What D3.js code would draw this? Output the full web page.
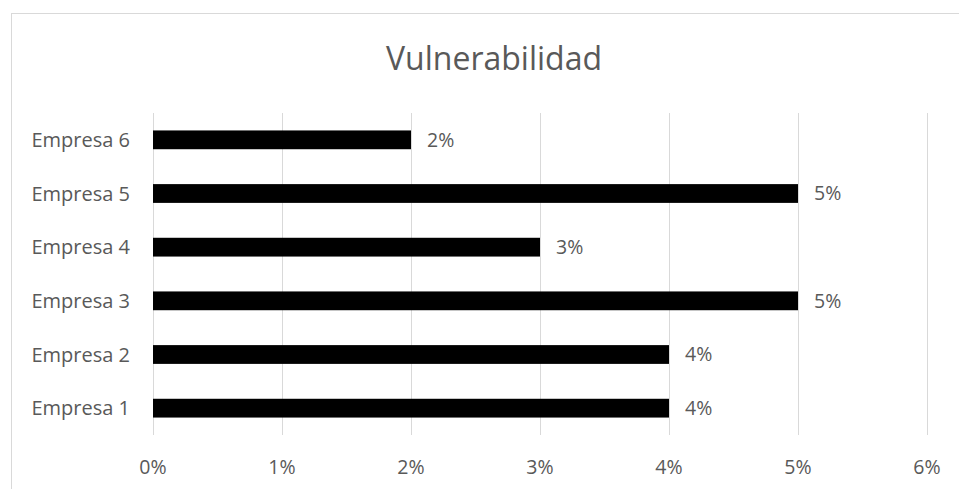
<!DOCTYPE html>
<html>
<head>
    <meta charset="utf-8">
    <style>
        body { margin: 0; background: #fff; }
        svg { display: block; font-family: 'Open Sans', sans-serif; }
        .grid line { stroke: #d9d9d9; stroke-width: 1px; }
        .tick, .cat-label, .value-label { fill: #595959; }
    </style>
    <script src="https://d3js.org/d3.v7.min.js"></script>
</head>
<body>
    <script>
        const categories = ['Empresa 1', 'Empresa 2', 'Empresa 3', 'Empresa 4', 'Empresa 5', 'Empresa 6'];
        const values = [0.04, 0.04, 0.05, 0.03, 0.05, 0.02];
        const xTicks = [0, 0.01, 0.02, 0.03, 0.04, 0.05, 0.06];
        const title = 'Vulnerabilidad';

        const width = 959, height = 489;
        const margin = { top: 113, right: 32, bottom: 54, left: 153 };

        const svg = d3.select('body').append('svg')
            .attr('width', width)
            .attr('height', height);

        // chart area border (cut off at right / bottom like the screenshot)
        svg.append('rect')
            .attr('x', 11.5).attr('y', 13.5)
            .attr('width', width).attr('height', height)
            .attr('fill', 'none')
            .attr('stroke', '#d9d9d9');

        const x = d3.scaleLinear()
            .domain([0, 0.06])
            .range([margin.left, width - margin.right]);

        const y = d3.scaleBand()
            .domain(categories.slice().reverse())
            .range([margin.top, height - margin.bottom])
            .paddingInner(0.65)
            .paddingOuter(0.325);

        svg.append('text')
            .attr('x', 494).attr('y', 70)
            .attr('text-anchor', 'middle')
            .style('font-size', '32px')
            .style('fill', '#595959')
            .text(title);

        // vertical gridlines
        svg.append('g').attr('class', 'grid')
            .selectAll('line')
            .data(xTicks)
            .join('line')
            .attr('x1', d => Math.round(x(d)) + 0.5)
            .attr('x2', d => Math.round(x(d)) + 0.5)
            .attr('y1', margin.top)
            .attr('y2', height - margin.bottom);

        // x tick labels
        svg.append('g')
            .selectAll('text')
            .data(xTicks)
            .join('text')
            .attr('class', 'tick')
            .attr('x', d => x(d))
            .attr('y', 474)
            .attr('text-anchor', 'middle')
            .style('font-size', '19.5px')
            .text(d3.format('.0%'));

        // bars
        svg.append('g')
            .selectAll('rect')
            .data(categories)
            .join('rect')
            .attr('x', x(0))
            .attr('y', d => y(d))
            .attr('width', (d, i) => x(values[i]) - x(0))
            .attr('height', y.bandwidth())
            .attr('fill', '#000');

        // category labels
        svg.append('g')
            .selectAll('text')
            .data(categories)
            .join('text')
            .attr('class', 'cat-label')
            .attr('x', 130)
            .attr('y', d => y(d) + y.bandwidth() / 2)
            .attr('dy', '0.35em')
            .attr('text-anchor', 'end')
            .style('font-size', '20px')
            .text(d => d);

        // value labels
        svg.append('g')
            .selectAll('text')
            .data(categories)
            .join('text')
            .attr('class', 'value-label')
            .attr('x', (d, i) => x(values[i]) + 16)
            .attr('y', d => y(d) + y.bandwidth() / 2)
            .attr('dy', '0.35em')
            .style('font-size', '19.5px')
            .text((d, i) => d3.format('.0%')(values[i]));
    </script>
</body>
</html>
